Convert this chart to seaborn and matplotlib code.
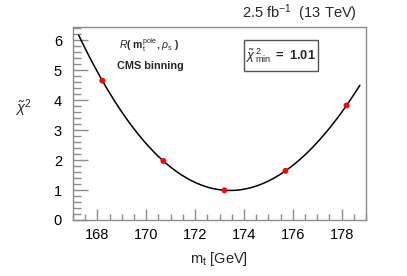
import numpy as np
import pandas as pd
import matplotlib
matplotlib.use("Agg")
import matplotlib.pyplot as plt
import seaborn as sns
from matplotlib.ticker import MultipleLocator
from matplotlib.patches import Rectangle

# data
mt_points = [168.2, 170.7, 173.2, 175.7, 178.2]
chi2_points = [4.65, 1.97, 0.99, 1.64, 3.82]
curve_range = [167.23, 178.75]
chi2_min_text = "1.01"
lumi_text = r"2.5 fb$^{-1}$  (13 TeV)"

sns.set_theme(style="white")
plt.rcParams['font.family'] = ['Liberation Sans', 'DejaVu Sans']
plt.rcParams['mathtext.fontset'] = 'custom'
plt.rcParams['mathtext.rm'] = 'Liberation Sans'
plt.rcParams['mathtext.it'] = 'Liberation Sans:italic'
plt.rcParams['mathtext.bf'] = 'Liberation Sans:bold'

fig = plt.figure(figsize=(4.07, 2.76), dpi=100)
ax = fig.add_axes([0.1794, 0.2029, 0.7199, 0.6993])

# fit curve through points
coef = np.polyfit(mt_points, chi2_points, 3)
xc = np.linspace(curve_range[0], curve_range[1], 300)
curve = pd.DataFrame({"mt": xc, "chi2": np.polyval(coef, xc)})
sns.lineplot(data=curve, x="mt", y="chi2", ax=ax, color="black", linewidth=1.1)

pts = pd.DataFrame({"mt": mt_points, "chi2": chi2_points})
sns.scatterplot(data=pts, x="mt", y="chi2", ax=ax, color="#ff0000", s=18,
                edgecolor="none", zorder=5)

ax.set_xlim(167, 179)
ax.set_ylim(0, 6.44)
ax.xaxis.set_major_locator(MultipleLocator(2))
ax.xaxis.set_minor_locator(MultipleLocator(0.5))
ax.yaxis.set_major_locator(MultipleLocator(1))
ax.yaxis.set_minor_locator(MultipleLocator(0.2))
spc = "#8c8c8c"
for s in ["top", "right", "left", "bottom"]:
    ax.spines[s].set_color(spc)
    ax.spines[s].set_linewidth(1.0)
ax.tick_params(axis="both", which="both", direction="in", colors=spc,
               labelcolor="black", labelsize=10.5, top=False, right=False,
               left=True, bottom=True)
ax.tick_params(axis="y", which="major", length=11, width=1.0, pad=8)
ax.tick_params(axis="y", which="minor", length=5.5, width=1.0)
ax.tick_params(axis="x", which="major", length=8, width=1.0, pad=6)
ax.tick_params(axis="x", which="minor", length=4, width=1.0)
ax.set_xlabel("")
ax.set_ylabel("")

fig.text(219 / 407, 1 - 263 / 276, r"m$_{\mathrm{t}}$ [GeV]", ha="center",
         va="baseline", fontsize=10.5)
fig.text(23 / 407, 1 - 108 / 276, r"$\tilde{\chi}^{2}$", ha="center",
         va="center", fontsize=10.5)
fig.text(357 / 407, 1 - 18.5 / 276, lumi_text, ha="right", va="baseline",
         fontsize=10.5)

fig.text(149 / 407, 1 - 49 / 276,
         r"$\mathbf{\mathit{R}}$( m$_{\mathrm{t}}^{\mathrm{pole}}$, $\rho_{\mathrm{s}}$ )",
         ha="center", va="baseline", fontsize=7.5, fontweight="bold")
fig.text(150 / 407, 1 - 69 / 276, "CMS binning",
         ha="center", va="baseline", fontsize=7.8, fontweight="bold")

box = Rectangle((244 / 407, 1 - 71 / 276), 74 / 407, 31 / 276,
                transform=fig.transFigure, facecolor="white",
                edgecolor="#555555", linewidth=1.0, zorder=6)
fig.patches.append(box)
fig.text(281 / 407, 1 - 56 / 276,
         r"$\tilde{\chi}^{\,2}_{\,\mathrm{min}}$" + r" $\mathbf{=\ " + chi2_min_text + "}$",
         ha="center", va="center", fontsize=9.3, fontweight="bold", zorder=7)

fig.savefig("out.png", dpi=100)
